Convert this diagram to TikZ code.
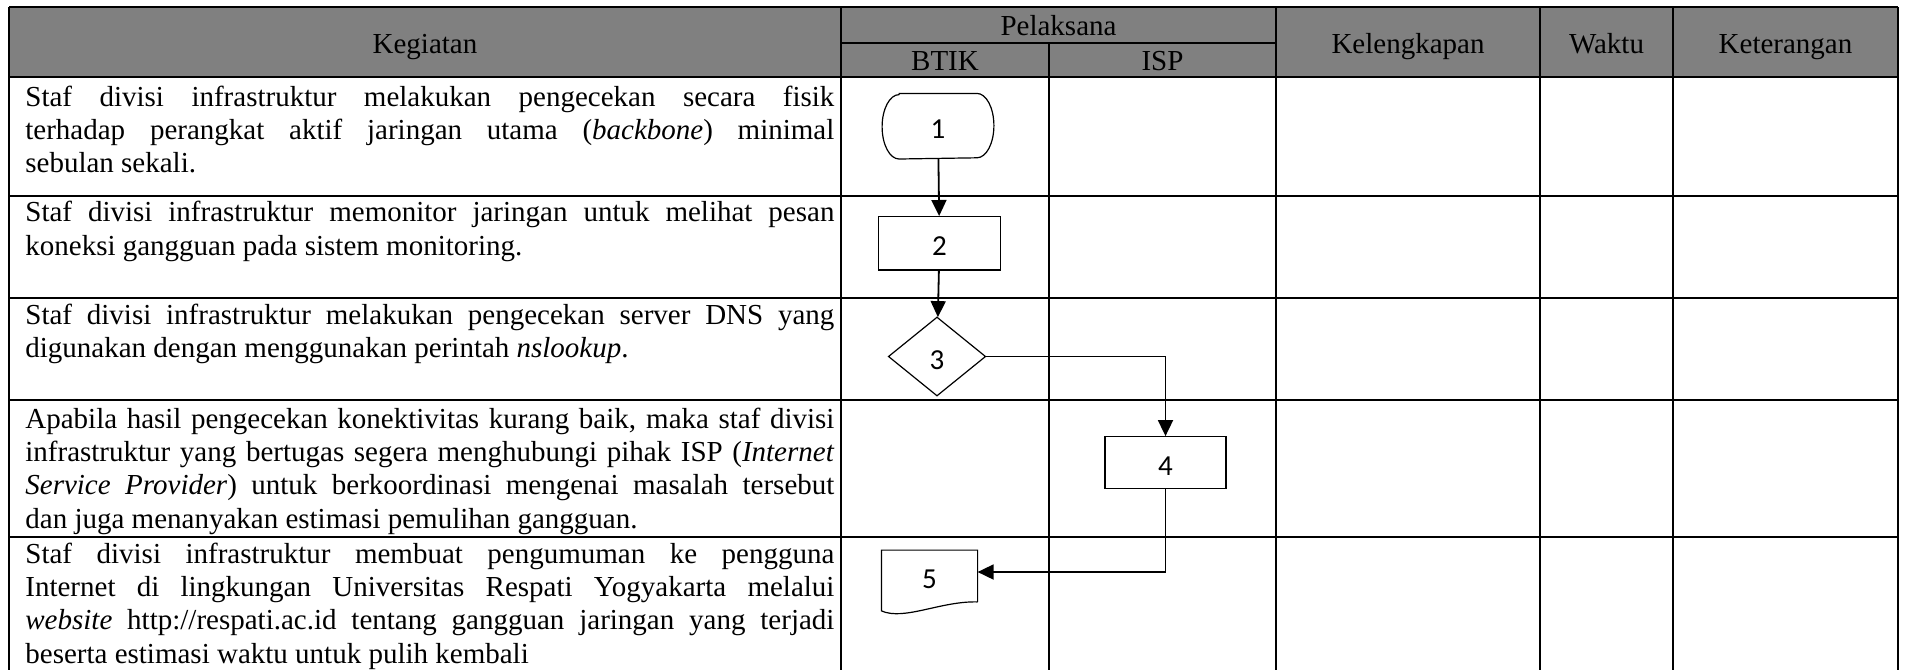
\documentclass[tikz,border=0pt]{standalone}
\usepackage{fontspec}
\setmainfont{Liberation Serif}
\newfontfamily\shapefont{Carlito}
\usetikzlibrary{arrows.meta,positioning,shapes.geometric,calc}
\newcommand{\rowfont}{\fontsize{14.5}{16.65}\selectfont\hyphenpenalty=10000\exhyphenpenalty=10000}

\begin{document}
\begin{tikzpicture}[x=0.5pt,y=-0.5pt,
  gridline/.style={line width=1pt,black},
  headtext/.style={anchor=base,inner sep=0pt,font=\rowfont},
  kegtext/.style={anchor=base west,inner sep=0pt,text width=404.5pt,align=justify,font=\rowfont},
  flowshape/.style={draw,line width=0.6pt,inner sep=0pt,font=\shapefont\fontsize{14.5}{16}\selectfont,
    text height=12.5pt,text depth=0pt},
  flowarrow/.style={-{Triangle[length=8pt,width=7.5pt]},line width=0.9pt}
]
  \useasboundingbox (0,0) rectangle (1905,670);
  % Header
  \fill[black!50] (9,7) rectangle (1898,77);
  \draw[gridline] (9,7) -- (1898,7);
  \draw[gridline] (841,43) -- (1276,43);
  \foreach \y in {77,196,298,400,537}
    \draw[gridline] (9,\y) -- (1898,\y);
  \foreach \x in {9,841,1276,1540,1673,1898}
    \draw[gridline] (\x,7) -- (\x,670);
  \draw[gridline] (1049,43) -- (1049,670);
  \node[headtext] (hkeg) at (425,53) {Kegiatan};
  \node[headtext] (hpel) at (1058.5,35) {Pelaksana};
  \node[headtext] (hbtik) at (945,70) {BTIK};
  \node[headtext] (hisp) at (1162.5,70) {ISP};
  \node[headtext] (hkel) at (1408,53) {Kelengkapan};
  \node[headtext] (hwak) at (1606.5,53) {Waktu};
  \node[headtext] (hket) at (1785.5,53) {Keterangan};
  % Kegiatan
  \node[kegtext] (k1) at (25,106) {Staf divisi infrastruktur melakukan pengecekan secara fisik\linebreak
    terhadap perangkat aktif jaringan utama (\textit{backbone}) minimal\linebreak
    sebulan sekali.};
  \node[kegtext] (k2) at (25,221.7) {Staf divisi infrastruktur memonitor jaringan untuk melihat pesan\linebreak
    koneksi gangguan pada sistem monitoring.};
  \node[kegtext] (k3) at (25,324) {Staf divisi infrastruktur melakukan pengecekan server DNS yang\linebreak
    digunakan dengan menggunakan perintah \textit{nslookup}.};
  \node[kegtext] (k4) at (25,428.3) {Apabila hasil pengecekan konektivitas kurang baik, maka staf divisi\linebreak
    infrastruktur yang bertugas segera menghubungi pihak ISP (\textit{Internet}\linebreak
    \textit{Service Provider}) untuk berkoordinasi mengenai masalah tersebut\linebreak
    dan juga menanyakan estimasi pemulihan gangguan.};
  \node[kegtext] (k5) at (25,563.3) {Staf divisi infrastruktur membuat pengumuman ke pengguna\linebreak
    Internet di lingkungan Universitas Respati Yogyakarta melalui\linebreak
    \textit{website} http://respati.ac.id tentang gangguan jaringan yang terjadi\linebreak
    beserta estimasi waktu untuk pulih kembali};
  % Flow
  \node[flowshape,draw=none,minimum width=55.3pt,minimum height=32.2pt] (n1) at (938,126.2) {1};
  \draw[line width=0.6pt] ([xshift=8.5pt]n1.north west) -- ([xshift=-8.5pt]n1.north east)
    arc[start angle=90,end angle=-90,x radius=8.5pt,y radius=16.1pt]
    -- ([xshift=8.5pt]n1.south west)
    arc[start angle=270,end angle=90,x radius=8.5pt,y radius=16.1pt] -- cycle;
  \node[flowshape,minimum width=60.8pt,minimum height=26.7pt] (n2) at (939.5,243.3) {2};
  \node[flowshape,diamond,minimum width=48.7pt,minimum height=39.5pt] (n3) at (937,356.5) {3};
  \node[flowshape,minimum width=60.5pt,minimum height=25.8pt] (n4) at (1165.5,462.5) {4};
  \node[flowshape,draw=none,minimum width=47.5pt,minimum height=25.3pt] (n5) at (929.5,576) {5};
  \draw[line width=0.6pt] (n5.south east) -- (n5.north east) -- (n5.north west)
    -- ($(n5.south west)+(0,9)$) .. controls ($(n5.south west)+(23,19)$) and ($(n5.south east)+(-37,-1)$) .. (n5.south east);
  \draw[flowarrow] (n1) -- (n2);
  \draw[flowarrow] (n2) -- (n3);
  \draw[flowarrow] (n3.east) -| (n4.north);
  \draw[flowarrow] (n4.south) |- ([yshift=2pt]n5.east);
\end{tikzpicture}
\end{document}
